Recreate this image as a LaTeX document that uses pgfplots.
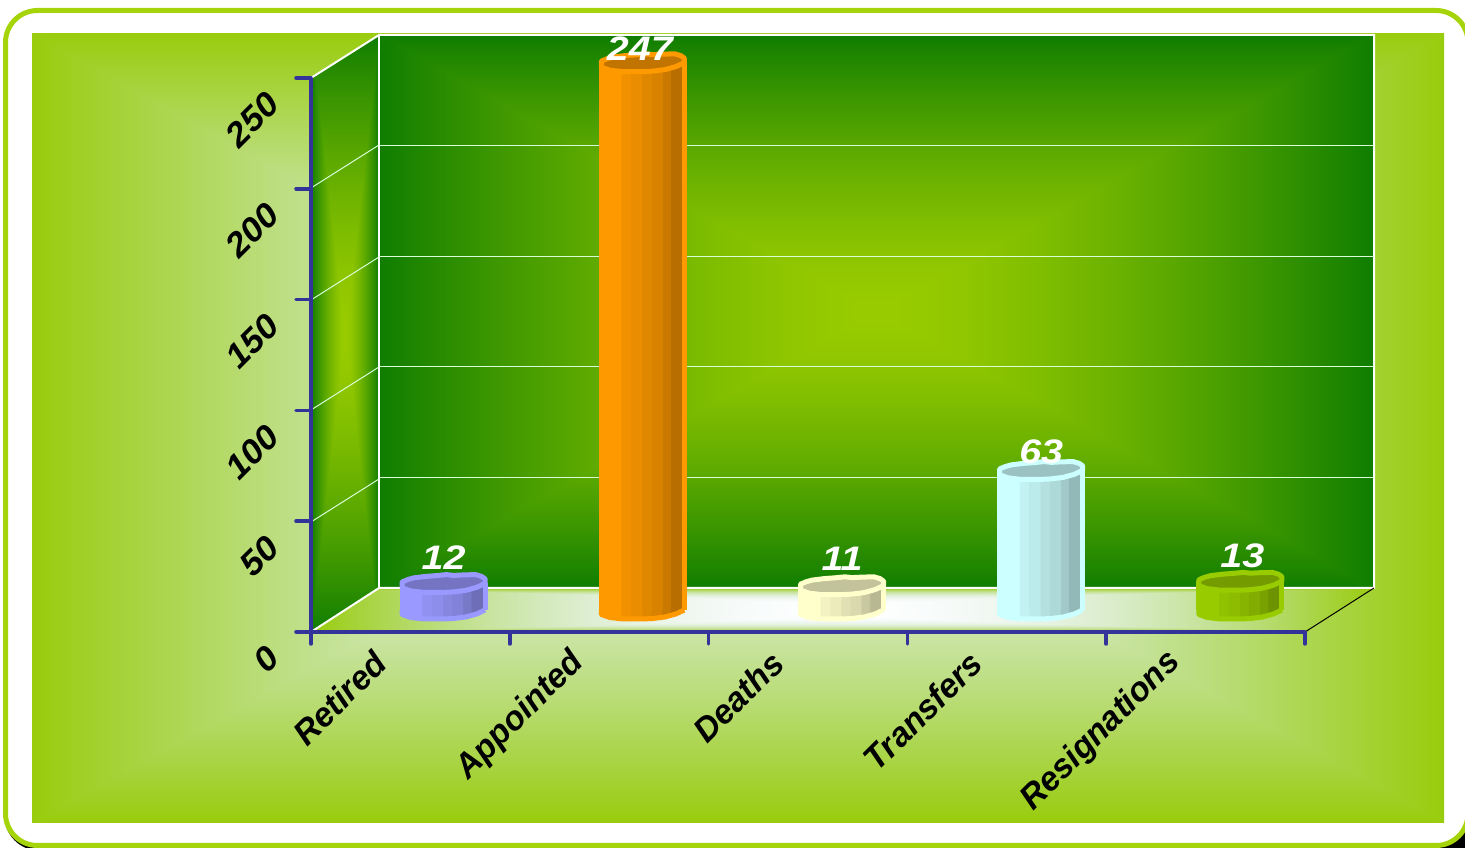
\documentclass[border=0pt]{standalone}
\usepackage{pgfplots}
\pgfplotsset{compat=1.18}
\usepackage{fontspec}
\setmainfont{Liberation Sans}
\definecolor{axblue}{HTML}{333399}
\definecolor{borderg}{HTML}{A6D40A}
\definecolor{cA}{HTML}{9999FF}\definecolor{cB}{HTML}{FF9900}\definecolor{cC}{HTML}{FFFFCC}\definecolor{cD}{HTML}{CCFFFF}\definecolor{cE}{HTML}{99CC00}
\newcommand\mkbar[2]{%
 \colorlet{#1a}{#2}\colorlet{#1b}{#2!95!black}\colorlet{#1c}{#2!92!black}\colorlet{#1d}{#2!88!black}\colorlet{#1e}{#2!85!black}\colorlet{#1f}{#2!79!black}\colorlet{#1g}{#2!72!black}\colorlet{#1t}{#2!76!black}%
 \pgfdeclarehorizontalshading{#1}{100bp}{color(0bp)=(#1a); color(36.8bp)=(#1a); color(36.9bp)=(#1b); color(42.5bp)=(#1b); color(42.6bp)=(#1c); color(49.2bp)=(#1c); color(49.3bp)=(#1d); color(55bp)=(#1d); color(55.1bp)=(#1e); color(61.6bp)=(#1e); color(61.7bp)=(#1f); color(66.5bp)=(#1f); color(66.6bp)=(#1g); color(100bp)=(#1g)}}
\mkbar{barA}{cA}\mkbar{barB}{cB}\mkbar{barC}{cC}\mkbar{barD}{cD}\mkbar{barE}{cE}
\pgfdeclarefunctionalshading{bgshade}{\pgfpoint{25bp}{25bp}}{\pgfpoint{75bp}{75bp}}{}{50 sub abs 25 div exch 50 sub abs 25 div 2 copy lt {exch} if pop dup -0.40 mul 1 add exch dup -0.20 mul 1 add exch dup sqrt mul -0.95 mul 1 add}
\pgfdeclarefunctionalshading{floorshade}{\pgfpoint{25bp}{25bp}}{\pgfpoint{75bp}{75bp}}{}{50 sub abs 25 div dup dup mul mul exch 50 sub abs 25 div dup sqrt mul 2 copy lt {exch} if pop dup -0.40 mul 1 add exch dup -0.20 mul 1 add exch dup sqrt mul -0.95 mul 1 add}
\pgfdeclarefunctionalshading{wallshade}{\pgfpoint{25bp}{25bp}}{\pgfpoint{75bp}{75bp}}{}{50 sub abs 25 div exch 50 sub abs 25 div 2 copy lt {exch} if pop dup sqrt mul dup -0.54 mul 0.60 add exch dup -0.31 mul 0.80 add exch pop 0}
\newcommand\capp[2]{\pgfpathlineto{\pgfpoint{#1pt}{#2pt}}}
\newcommand\capshape{\pgfpathmoveto{\pgfpoint{-41.5pt}{1.5pt}}%
\capp{-36}{3.8}\capp{-30}{5.5}\capp{-18}{7}\capp{-7}{7.8}\capp{3}{8.8}\capp{10}{8}\capp{20}{8.5}\capp{32}{8.8}\capp{38}{7}\capp{41.5}{4.5}\capp{41.5}{0}\capp{33}{-4}\capp{22}{-7}\capp{10}{-8.5}\capp{0}{-9}\capp{-20}{-9}\capp{-33}{-7.5}\capp{-41.5}{-4.5}\pgfpathclose}
\newcommand\lowshape{\pgfpathmoveto{\pgfpoint{-41.5pt}{0pt}}%
\capp{-41.5}{-4.5}\capp{-33}{-7.5}\capp{-20}{-9}\capp{0}{-9}\capp{10}{-8.5}\capp{22}{-7}\capp{33}{-4}\capp{41.5}{0}}
\pgfdeclareplotmark{topcap}{\capshape\pgfusepathqfillstroke}
\newcommand\mkbot[1]{\pgfdeclareplotmark{bot#1}{\begin{pgfscope}\lowshape\pgfpathclose\pgfshadepath{#1}{0}\pgfusepath{discard}\end{pgfscope}\lowshape\pgfusepath{stroke}}}
\mkbot{barA}\mkbot{barB}\mkbot{barC}\mkbot{barD}\mkbot{barE}
\newcommand\lblfont{\bfseries\itshape\fontsize{34}{34}\selectfont}
% #1 x  #2 value  #3 base colour  #4 shading  #5 label yshift  #6 label xshift
\newcommand\onebar[6]{%
 \addplot[only marks,mark=bot#4,mark options={draw=#3,line width=5pt,line join=round},forget plot] coordinates {(#1,0)};
 \addplot[ybar,bar width=83pt,bar shift=0pt,draw=none,shading=#4,forget plot] coordinates {(#1,#2)};
 \addplot[ybar,bar width=5pt,bar shift=-41.5pt,draw=none,fill=#3,forget plot] coordinates {(#1,#2)};
 \addplot[ybar,bar width=5pt,bar shift=41.5pt,draw=none,fill=#3,forget plot] coordinates {(#1,#2)};
 \addplot[only marks,mark=topcap,mark options={draw=#3,fill=#3!76!black,line width=5pt,line join=round},forget plot,
   nodes near coords,nodes near coords align={anchor=center},
   every node near coord/.append style={font=\lblfont,text=white,anchor=center,yshift=#5,xshift=#6,xscale=1.16}] coordinates {(#1,#2)};
}
\begin{document}
\begin{tikzpicture}
\fill[white] (0,0) rectangle (1465pt,848pt);
\path[use as bounding box] (0,0) rectangle (1465pt,848pt);
\begin{scope}[x=1pt,y=-1pt,yshift=848pt]
 \clip (0,0) rectangle (1465,848);
 \fill[black] (1445,830) rectangle (1465,848);
 \draw[black,line width=5pt] (7,12) [rounded corners=32pt] -- (7,848) -- (1470,848) -- (1470,12) -- cycle;
 \fill[white] (0,0) rectangle (1465,300);
 \draw[borderg,line width=5pt,fill=white] (5.5,10.5) [rounded corners=32pt] -- (5.5,845.5) -- (1468,845.5) -- (1468,10.5) -- cycle;
 \shade[shading=bgshade] (32,33) rectangle (1444,823);
 \begin{scope}
  \clip (311,632) -- (379,588) -- (1374,588) -- (1305,632) -- cycle;
  \shade[shading=floorshade] (311,588) rectangle (1374,632);
 \end{scope}
 \begin{scope}
  \clip (311,78) -- (379,35) -- (379,588) -- (311,632) -- cycle;
  \shade[shading=wallshade] (311,35) rectangle (379,632);
 \end{scope}
 \shade[shading=wallshade] (379,35) rectangle (1374,588);
 \draw[white,line width=2pt] (311,78) -- (379,35) -- (1374,35) -- (1374,588) -- (379,588) -- (311,632);
 \draw[white,line width=2pt] (379,35) -- (379,588);
 \draw[white!85!green,line width=1pt] (311,188) -- (379,145) (311,300) -- (379,257) (311,410) -- (379,367) (311,522) -- (379,479);
 \draw[black,line width=1pt] (1305,632) -- (1374,588);
\end{scope}
% back wall grid
\begin{axis}[at={(379pt,260pt)},anchor=south west,scale only axis,width=995pt,height=553pt,
  xmin=0,xmax=1,ymin=0,ymax=250,ytick={50,100,150,200},xtick=\empty,
  ymajorgrids,grid style={white!85!green,line width=1pt},axis line style={draw=none},tick style={draw=none},yticklabels={}]
\addplot[draw=none,forget plot] coordinates {(0,0)};
\end{axis}
% main axis with the scale
\begin{axis}[at={(311pt,216pt)},anchor=south west,scale only axis,width=994pt,height=554pt,
  xmin=-0.5,xmax=4.5,ymin=0,ymax=250,
  axis x line=bottom,axis y line=left,axis line style={-,draw=axblue,line width=3.5pt},
  xtick={0,1,2,3,4},xticklabels={Retired,Appointed,Deaths,Transfers,Resignations},
  minor xtick={-0.5,0.5,1.5,2.5,3.5,4.5},
  ytick={0,50,100,150,200,250},
  /pgf/number format/assume math mode=true,
  major x tick style={draw=none},
  minor x tick style={draw=axblue,line width=3.5pt,line cap=round},
  y tick style={draw=axblue,line width=3.5pt,line cap=round},
  minor tick length=12pt,major tick length=15pt,tick align=outside,
  x tick label style={font=\lblfont,text=black,anchor=east,xshift=-28pt,yshift=-8pt,rotate=45,xscale=0.98},
  y tick label style={font=\lblfont,text=black,anchor=east,xshift=-20pt,yshift=-18pt,rotate=45,xscale=1.05},
]
\addplot[draw=none,forget plot] coordinates {(0,0)};
\end{axis}
% bars, standing half way into the depth of the chart
\begin{axis}[at={(344pt,238pt)},anchor=south west,scale only axis,width=996pt,height=554pt,
  xmin=-0.5,xmax=4.5,ymin=0,ymax=250,hide axis,clip=false,
  /pgf/number format/assume math mode=true]
\onebar{0}{12}{cA}{barA}{26pt}{0pt}
\onebar{1}{247}{cB}{barB}{14pt}{-3pt}
\onebar{2}{11}{cC}{barC}{27pt}{0pt}
\onebar{3}{63}{cD}{barD}{19pt}{0pt}
\onebar{4}{13}{cE}{barE}{25pt}{2pt}
\end{axis}
\end{tikzpicture}
\end{document}
